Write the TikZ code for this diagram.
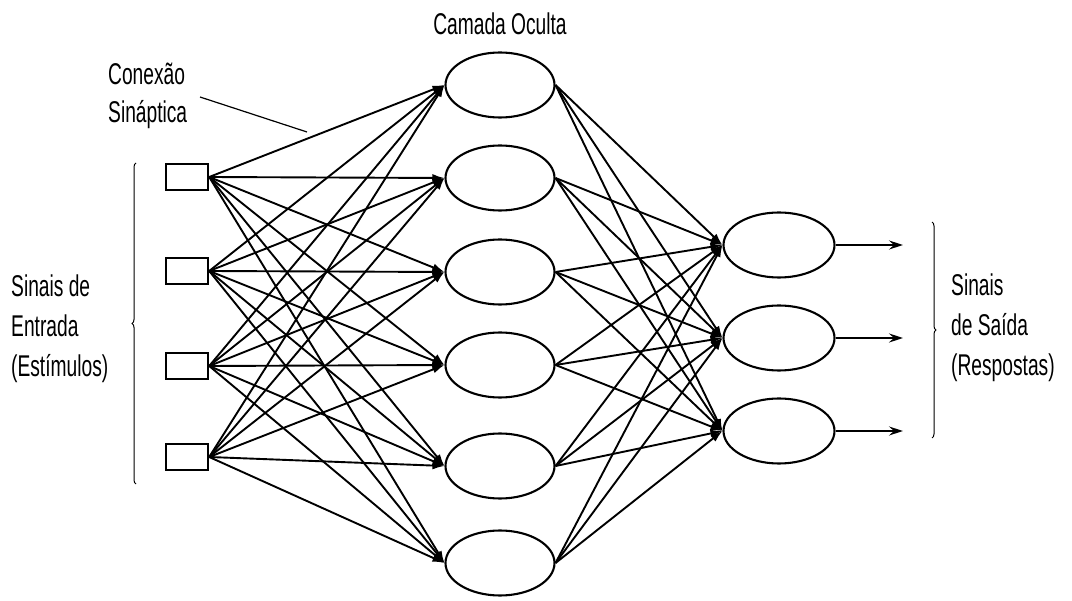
\documentclass[tikz,border=0pt]{standalone}
\usepackage{fontspec}
\setmainfont{Liberation Sans}[FakeStretch=0.64]
\usetikzlibrary{arrows.meta,decorations.pathreplacing,shapes.geometric}
\begin{document}
\begin{tikzpicture}[x=1pt,y=-1pt,
  inbox/.style={draw,line width=2.4pt,minimum width=42pt,minimum height=26pt,inner sep=0pt},
  hid/.style={draw,ellipse,line width=2.1pt,minimum width=109pt,minimum height=65pt,inner sep=0pt},
  outn/.style={draw,ellipse,line width=2.1pt,minimum width=111pt,minimum height=65pt,inner sep=0pt},
  conn/.style={line width=1.9pt,-{Latex[length=12pt,width=8pt]}},
  outarrow/.style={line width=1.6pt,-{Stealth[length=14pt,width=9pt,inset=5pt]}},
  lbl/.style={font=\fontsize{30}{30}\selectfont,inner sep=0pt},
  brc/.style={line width=1pt,decorate,decoration={brace,amplitude=4pt}}]
\useasboundingbox (0,0) rectangle (1072,601);
\fill[white] (0,0) rectangle (1072,601);
% input nodes
\node[inbox] (i1) at (187,177) {};
\node[inbox] (i2) at (187,271) {};
\node[inbox] (i3) at (187,366) {};
\node[inbox] (i4) at (187,457) {};
% hidden nodes
\node[hid] (h1) at (500,85) {};
\node[hid] (h2) at (500,178) {};
\node[hid] (h3) at (500,272) {};
\node[hid] (h4) at (500,365) {};
\node[hid] (h5) at (500,466) {};
\node[hid] (h6) at (500,563) {};
% output nodes
\node[outn] (o1) at (779,245) {};
\node[outn] (o2) at (779,338) {};
\node[outn] (o3) at (779,431) {};
% output ends
\coordinate (e1) at (903,245);
\coordinate (e2) at (903,338);
\coordinate (e3) at (903,431);
% connections
\foreach \i in {1,...,4}{
  \foreach \j in {1,...,6}{
    \draw[conn] (i\i.east) -- (h\j.west);
  }
}
\foreach \j in {1,...,6}{
  \foreach \k in {1,2,3}{
    \draw[conn] (h\j.east) -- (o\k.west);
  }
}
\draw[outarrow] (o1.east) -- (e1);
\draw[outarrow,line width=2.6pt] (o2.east) -- (e2);
\draw[outarrow] (o3.east) -- (e3);
% labels
\node[lbl,anchor=base] (tc) at (500,35) {Camada Oculta};
\node[lbl,anchor=base west] (tcon) at (108,85) {Conexão};
\node[lbl,anchor=base west] (tsin) at (108,123) {Sináptica};
\coordinate (p1) at (200,97);
\coordinate (p2) at (307,132);
\draw[line width=1.2pt] (p1) -- (p2);
\node[lbl,anchor=base west] (l1) at (11,297) {Sinais de};
\node[lbl,anchor=base west] (l2) at (11,337) {Entrada};
\node[lbl,anchor=base west] (l3) at (11,377) {(Estímulos)};
\node[lbl,anchor=base west] (r1) at (951,296) {Sinais};
\node[lbl,anchor=base west] (r2) at (951,336) {de Saída};
\node[lbl,anchor=base west] (r3) at (951,376) {(Respostas)};
% braces
\coordinate (bl1) at (136,484);
\coordinate (bl2) at (136,163);
\draw[brc] (bl1) -- (bl2);
\coordinate (br1) at (932,222);
\coordinate (br2) at (932,438);
\draw[brc] (br1) -- (br2);
\end{tikzpicture}
\end{document}
